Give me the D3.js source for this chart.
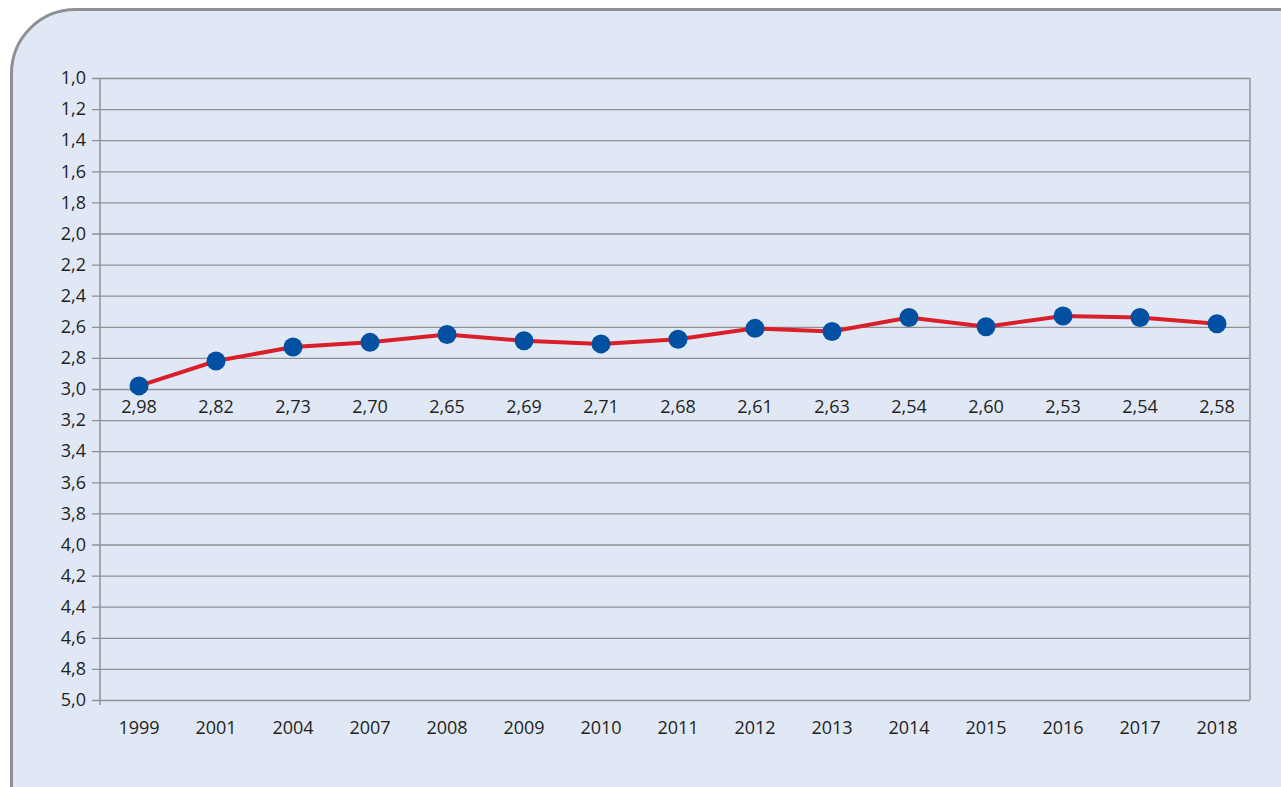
<!DOCTYPE html>
<html>
<head>
<meta charset="utf-8">
<script src="https://cdn.jsdelivr.net/npm/d3@7"></script>
<style>
  body { margin: 0; background: #ffffff; }
  svg text { font-family: "Open Sans", "Noto Sans", sans-serif; fill: #231f20; }
</style>
</head>
<body>
<script>
// years and values
var years = ["1999", "2001", "2004", "2007", "2008", "2009", "2010", "2011", "2012", "2013", "2014", "2015", "2016", "2017", "2018"];
var values = [2.98, 2.82, 2.73, 2.70, 2.65, 2.69, 2.71, 2.68, 2.61, 2.63, 2.54, 2.60, 2.53, 2.54, 2.58];
var yTicks = [1.0, 1.2, 1.4, 1.6, 1.8, 2.0, 2.2, 2.4, 2.6, 2.8, 3.0, 3.2, 3.4, 3.6, 3.8, 4.0, 4.2, 4.4, 4.6, 4.8, 5.0];

var W = 1281, H = 787;
var margin = {top: 78, right: 31, bottom: 87, left: 100},
    width = W - margin.left - margin.right,
    height = H - margin.top - margin.bottom;

var fmt = function(v, d) { return v.toFixed(d).replace(".", ","); };

var svg = d3.select("body").append("svg")
    .attr("width", W)
    .attr("height", H);

// rounded panel
svg.append("rect")
    .attr("x", 11.5).attr("y", 9.5)
    .attr("width", W + 80).attr("height", H + 80)
    .attr("rx", 64).attr("ry", 64)
    .attr("fill", "#e1e8f5")
    .attr("stroke", "#8e9094")
    .attr("stroke-width", 3);

var g = svg.append("g")
    .attr("transform", "translate(" + margin.left + "," + margin.top + ")");

var x = d3.scalePoint()
    .domain(years)
    .range([39, 1117]);

var y = d3.scaleLinear()
    .domain([1, 5])
    .range([0, height]);

// gridlines + left ticks
g.append("g")
    .call(d3.axisLeft(y).tickValues(yTicks).tickSize(-width).tickFormat(function(d){ return fmt(d, 1); }))
    .call(function(a) {
        a.select(".domain").remove();
        a.selectAll(".tick line")
            .attr("x1", -8)
            .attr("stroke", "#8e9094")
            .attr("stroke-width", 1.3);
        a.selectAll(".tick text")
            .attr("x", -14)
            .attr("font-size", 18)
            .attr("fill", "#231f20");
    });

// left axis line and right border
g.append("line")
    .attr("x1", 0).attr("x2", 0)
    .attr("y1", 0).attr("y2", height + 5)
    .attr("stroke", "#8e9094").attr("stroke-width", 1.5);
g.append("line")
    .attr("x1", width).attr("x2", width)
    .attr("y1", 0).attr("y2", height)
    .attr("stroke", "#a5a8ad").attr("stroke-width", 2);

// x labels
g.selectAll(".xlab")
    .data(years)
    .enter().append("text")
    .attr("class", "xlab")
    .attr("x", function(d){ return x(d); })
    .attr("y", height + 34)
    .attr("text-anchor", "middle")
    .attr("font-size", 18)
    .text(function(d){ return d; });

// line
var line = d3.line()
    .x(function(d, i){ return x(years[i]); })
    .y(function(d){ return y(d); });

g.append("path")
    .datum(values)
    .attr("d", line)
    .attr("fill", "none")
    .attr("stroke", "#d9202a")
    .attr("stroke-width", 4);

g.selectAll(".dot")
    .data(values)
    .enter().append("circle")
    .attr("class", "dot")
    .attr("cx", function(d, i){ return x(years[i]); })
    .attr("cy", function(d){ return y(d); })
    .attr("r", 9.5)
    .attr("fill", "#0150a2");

// value labels in a row under the 3,0 line
g.selectAll(".vlab")
    .data(values)
    .enter().append("text")
    .attr("class", "vlab")
    .attr("x", function(d, i){ return x(years[i]); })
    .attr("y", y(3.0) + 24)
    .attr("text-anchor", "middle")
    .attr("font-size", 18)
    .text(function(d){ return fmt(d, 2); });
</script>
</body>
</html>
